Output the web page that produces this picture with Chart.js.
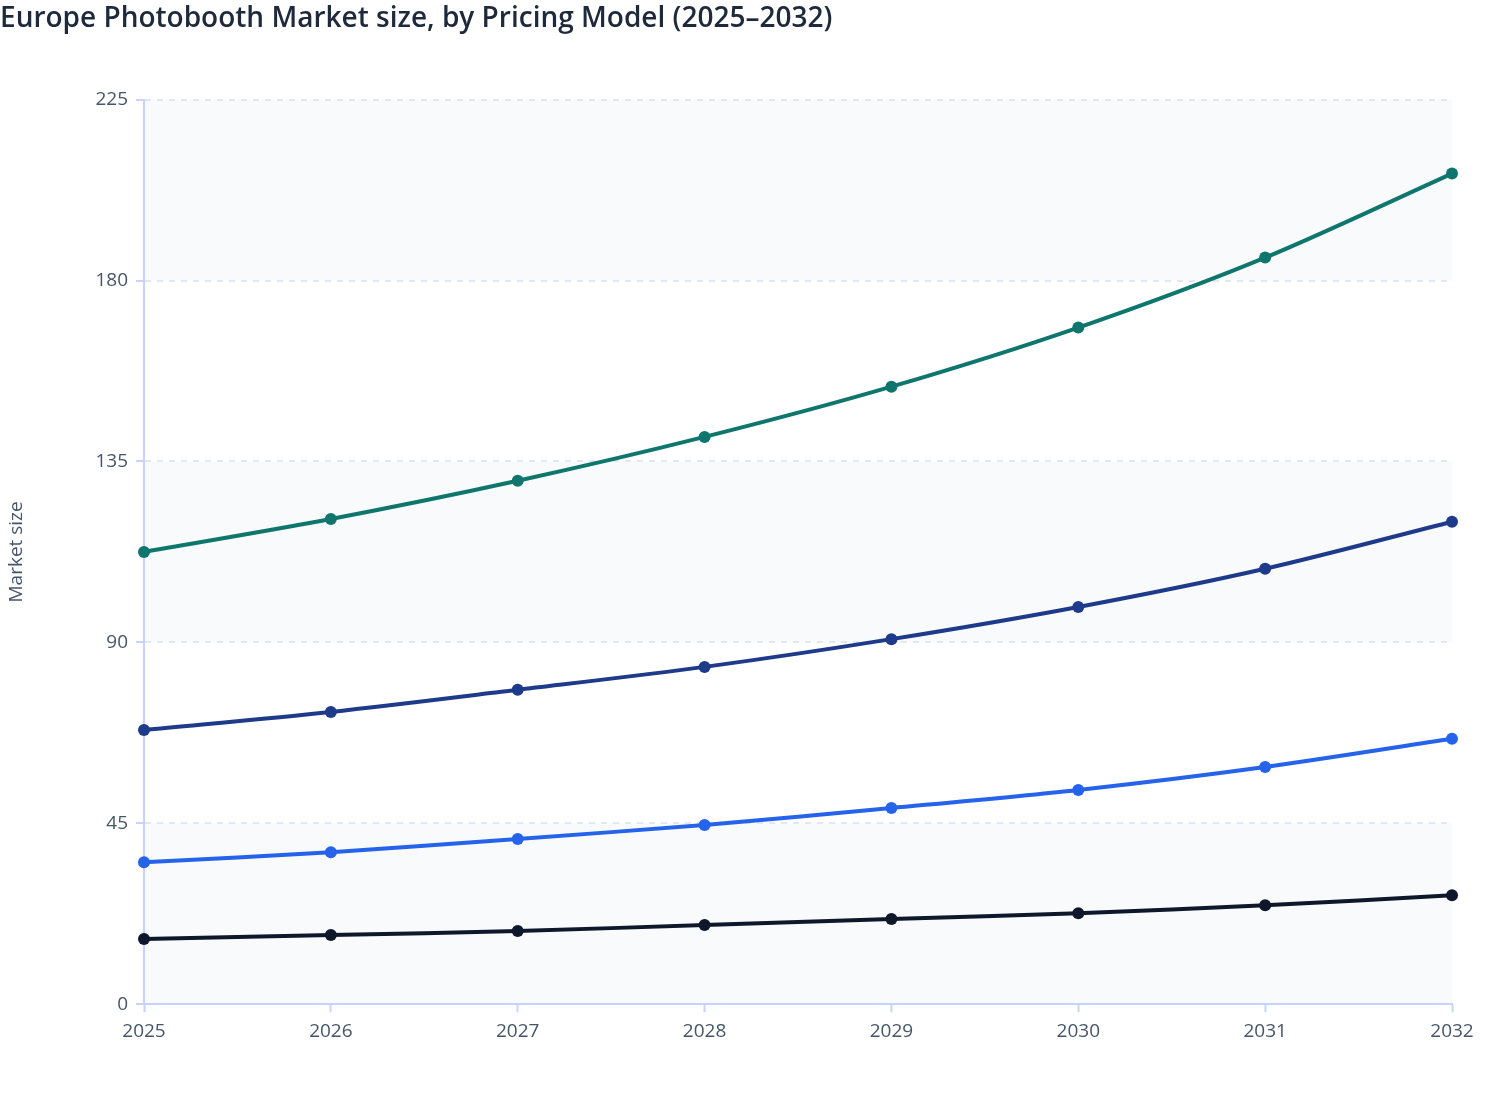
<!DOCTYPE html>
<html>
<head>
<meta charset="utf-8">
<script src="https://cdn.jsdelivr.net/npm/chart.js@4.4.1/dist/chart.umd.min.js"></script>
<style>
  html, body { margin: 0; padding: 0; background: #ffffff; }
  #wrap { width: 1508px; height: 1120px; position: relative; }
</style>
</head>
<body>
<div id="wrap"><canvas id="marketChart"></canvas></div>
<script>
// Data
const years = ['2025', '2026', '2027', '2028', '2029', '2030', '2031', '2032'];
const seriesTeal = [112.5, 120.7, 130.2, 141.1, 153.6, 168.3, 185.7, 206.6];
const seriesNavy = [68.2, 72.7, 78.2, 83.9, 90.8, 98.8, 108.3, 120.0];
const seriesBlue = [35.3, 37.8, 41.1, 44.6, 48.8, 53.3, 59.0, 66.0];
const seriesDark = [16.2, 17.2, 18.2, 19.7, 21.2, 22.6, 24.6, 27.1];
const yTicks = [0, 45, 90, 135, 180, 225];

const fontFamily = '"Open Sans", "Noto Sans", sans-serif';

// alternating shaded bands, drawn before the axes so grid and border sit on top
const bandPlugin = {
    id: 'bands',
    beforeDraw(chart) {
        const { ctx, chartArea, scales } = chart;
        const y = scales.y;
        ctx.save();
        ctx.fillStyle = '#f8fafc';
        for (let i = 0; i < yTicks.length - 1; i += 2) {
            const top = y.getPixelForValue(yTicks[i + 1]);
            const bottom = y.getPixelForValue(yTicks[i]);
            ctx.fillRect(chartArea.left, top, chartArea.right - chartArea.left, bottom - top);
        }
        ctx.restore();
    }
};

function makeSet(label, data, color) {
    return {
        label: label,
        data: data,
        borderColor: color,
        backgroundColor: color,
        borderWidth: 4,
        pointRadius: 6,
        pointHoverRadius: 7,
        pointBorderWidth: 0,
        tension: 0.3,
        fill: false
    };
}

const ctx = document.getElementById('marketChart').getContext('2d');
new Chart(ctx, {
    type: 'line',
    data: {
        labels: years,
        datasets: [
            makeSet('Rental', seriesTeal, '#0f766e'),
            makeSet('Purchase', seriesNavy, '#1e3a8a'),
            makeSet('Subscription', seriesBlue, '#2563eb'),
            makeSet('Pay-per-use', seriesDark, '#0f172a')
        ]
    },
    options: {
        responsive: true,
        maintainAspectRatio: false,
        animation: false,
        layout: { padding: { left: 0, right: 56, top: 0, bottom: 69 } },
        plugins: {
            legend: { display: false },
            tooltip: { enabled: false },
            title: {
                display: true,
                text: 'Europe Photobooth Market size, by Pricing Model (2025–2032)',
                align: 'start',
                color: '#1e293b',
                font: { family: fontFamily, size: 28, weight: '600' },
                padding: { top: 2, bottom: 64 }
            }
        },
        scales: {
            x: {
                offset: false,
                grid: {
                    drawOnChartArea: false,
                    drawTicks: true,
                    tickLength: 8,
                    tickColor: '#c7d2fe',
                    tickWidth: 2
                },
                border: { display: true, color: '#c7d2fe', width: 2 },
                ticks: {
                    color: '#475569',
                    font: { family: fontFamily, size: 19 },
                    padding: 8,
                    maxRotation: 0
                }
            },
            y: {
                min: 0,
                max: 225,
                afterBuildTicks(axis) {
                    axis.ticks = yTicks.map(v => ({ value: v }));
                },
                afterFit(axis) {
                    axis.width = 144;
                },
                grid: {
                    color: '#e2e8f0',
                    lineWidth: 2,
                    drawTicks: true,
                    tickLength: 8,
                    tickColor: '#c7d2fe',
                    tickWidth: 2
                },
                border: { display: true, color: '#c7d2fe', width: 2, dash: [6, 6] },
                ticks: {
                    color: '#475569',
                    font: { family: fontFamily, size: 19 },
                    padding: 8
                },
                title: {
                    display: true,
                    text: 'Market size',
                    color: '#475569',
                    font: { family: fontFamily, size: 19 },
                    padding: { top: 5, bottom: 14 }
                }
            }
        }
    },
    plugins: [bandPlugin]
});
</script>
</body>
</html>
